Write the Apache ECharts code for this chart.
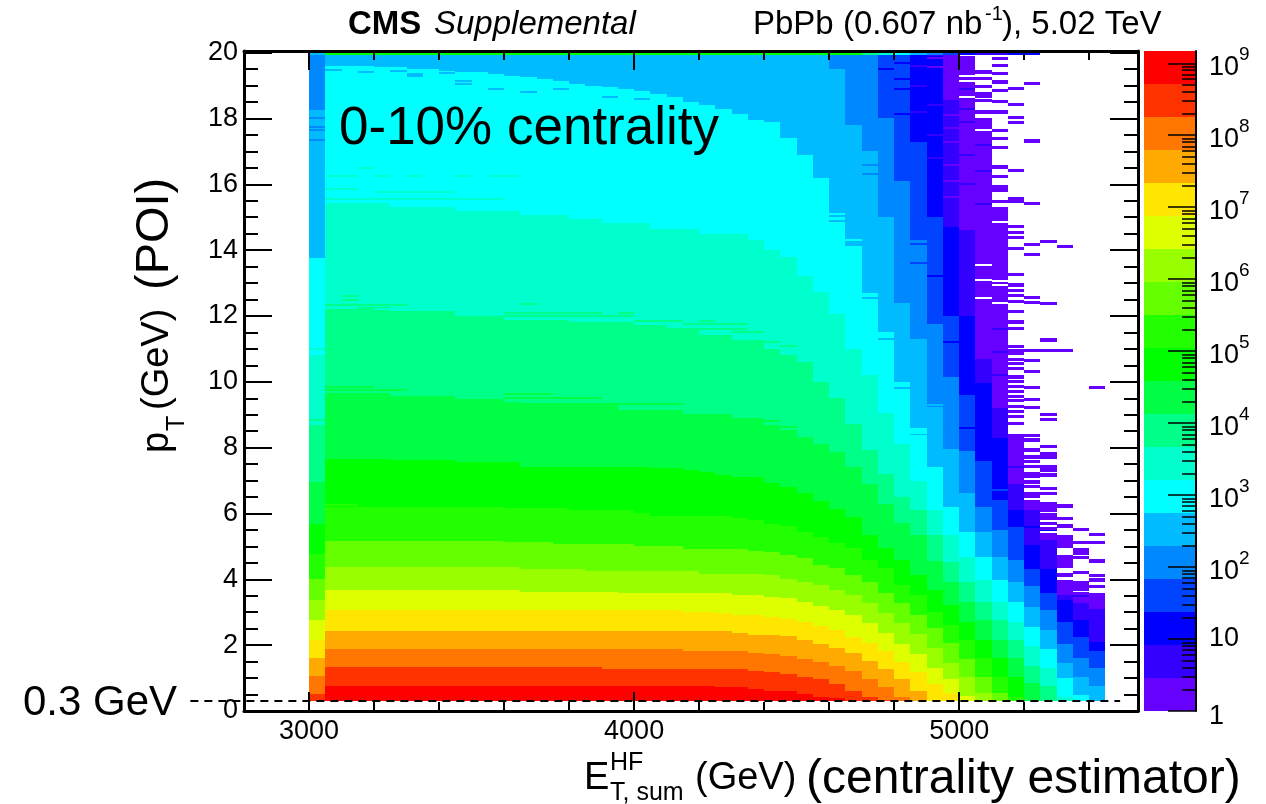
<!DOCTYPE html>
<html><head><meta charset="utf-8">
<style>html,body{margin:0;padding:0;background:#fff}#c{width:1266px;height:804px}</style>
<script src="https://cdn.jsdelivr.net/npm/echarts@6/dist/echarts.min.js"></script>
</head><body><div id="c"></div>
<script>
// ---- tick labels / categories ----
const columnLowEdges = [3000,3050,3100,3150,3200,3250,3300,3350,3400,3450,3500,3550,3600,3650,3700,3750,3800,3850,3900,3950,4000,4050,4100,4150,4200,4250,4300,4350,4400,4450,4500,4550,4600,4650,4700,4750,4800,4850,4900,4950,5000,5050,5100,5150,5200,5250,5300,5350,5400];
const columnWidth = 50;
const xMajorTicks = [3000,4000,5000];
const yMajorTicks = [0,2,4,6,8,10,12,14,16,18,20];
const zDecades = [1,1e1,1e2,1e3,1e4,1e5,1e6,1e7,1e8,1e9];
const zMinorTicks = [2,3,4,5,6,7,8,9,20,30,40,50,60,70,80,90,200,300,400,500,600,700,800,900,2e3,3e3,4e3,5e3,6e3,7e3,8e3,9e3,2e4,3e4,4e4,5e4,6e4,7e4,8e4,9e4,2e5,3e5,4e5,5e5,6e5,7e5,8e5,9e5,2e6,3e6,4e6,5e6,6e6,7e6,8e6,9e6,2e7,3e7,4e7,5e7,6e7,7e7,8e7,9e7,2e8,3e8,4e8,5e8,6e8,7e8,8e8,9e8];
const bandEdges = [1,2.87,8.26,23.7,68.2,196,564,1620,4660,13400,38500,110500,318000,913000,2620000,7540000,21700000,62300000,179000000,515000000,1480000000];
const bandColors = ['#6600ff','#3300ff','#0000ff','#0044ff','#0088ff','#00bbff','#00ffff','#00ffcc','#00ff88','#00ff44','#00ff00','#22ff00','#66ff00','#99ff00','#ddff00','#ffe600','#ffaa00','#ff7700','#ff3300','#ff0000'];
const cutPt = [[2635,5495,0.3]];

// ---- upper pT edge of each colour level, one value per E column ----
const top20=[.3,.77,.77,.77,.77,.77,.77,.77,.77,.77,.77,.77,.77,.77,.77,.77,.77,.77,.77,.77,.77,.77,.77,.77,.77,.72,.72,.67,.62,.61,.51,.44,.39,.3,.3,.3,.3,.3,.3,.3,.3,.3,.3,.3,.3,.3,.3,.3,.3];
const top19=[.52,1.33,1.33,1.33,1.33,1.33,1.33,1.33,1.33,1.33,1.33,1.33,1.33,1.33,1.33,1.33,1.33,1.33,1.28,1.28,1.28,1.28,1.28,1.28,1.28,1.28,1.28,1.22,1.17,1.12,1.02,.97,.82,.62,.42,.34,.3,.3,.3,.3,.3,.3,.3,.3,.3,.3,.3,.3,.3];
const top18=[1.06,1.87,1.87,1.87,1.87,1.87,1.87,1.87,1.87,1.87,1.87,1.87,1.87,1.87,1.87,1.87,1.87,1.87,1.87,1.87,1.87,1.87,1.87,1.82,1.82,1.82,1.82,1.77,1.72,1.68,1.57,1.5,1.38,1.23,.97,.72,.43,.3,.3,.3,.3,.3,.3,.3,.3,.3,.3,.3,.3];
const top17=[1.61,2.44,2.44,2.44,2.44,2.44,2.44,2.44,2.44,2.44,2.44,2.44,2.44,2.44,2.44,2.44,2.44,2.44,2.44,2.44,2.44,2.44,2.44,2.44,2.44,2.44,2.37,2.32,2.32,2.28,2.16,2.05,1.9,1.75,1.52,1.28,.96,.62,.3,.3,.3,.3,.3,.3,.3,.3,.3,.3,.3];
const top16=[2.16,3.07,3.07,3.07,3.07,3.07,3.07,3.07,3.07,3.07,3.07,3.07,3.07,3.07,3.07,3.07,3.07,3.07,3.07,3.07,3.07,3.07,3.07,3.02,3.02,2.97,2.92,2.92,2.87,2.81,2.71,2.59,2.46,2.26,2.07,1.82,1.5,1.17,.82,.54,.3,.3,.3,.3,.3,.3,.3,.3,.3];
const top15=[2.76,3.67,3.67,3.67,3.67,3.67,3.67,3.67,3.67,3.67,3.67,3.67,3.67,3.62,3.62,3.62,3.62,3.62,3.62,3.57,3.57,3.57,3.57,3.57,3.57,3.57,3.52,3.52,3.47,3.42,3.32,3.2,3.07,2.92,2.66,2.36,2.05,1.73,1.31,.96,.45,.3,.3,.3,.3,.3,.3,.3,.3];
const top14=[3.37,4.36,4.36,4.36,4.36,4.36,4.36,4.36,4.36,4.36,4.36,4.36,4.36,4.32,4.32,4.32,4.32,4.26,4.26,4.26,4.26,4.26,4.26,4.26,4.16,4.16,4.16,4.16,4.12,4.0,3.93,3.83,3.67,3.52,3.27,2.97,2.66,2.34,1.92,1.47,1.02,.54,.3,.3,.3,.3,.3,.3,.3];
const top13=[4.0,5.16,5.16,5.16,5.16,5.16,5.16,5.16,5.16,5.16,5.16,5.16,5.12,5.12,5.12,5.07,5.07,5.07,5.07,5.07,5.02,5.02,5.02,4.92,4.92,4.92,4.92,4.87,4.82,4.74,4.64,4.45,4.33,4.13,3.93,3.57,3.27,2.92,2.51,2.07,1.57,1.02,.54,.3,.3,.3,.3,.3,.3];
const top12=[4.78,6.19,6.19,6.19,6.19,6.19,6.19,6.19,6.19,6.19,6.19,6.19,6.16,6.16,6.16,6.16,6.11,6.11,6.11,6.11,6.03,5.92,5.92,5.92,5.92,5.92,5.86,5.81,5.67,5.63,5.43,5.3,5.09,4.94,4.59,4.33,3.83,3.52,3.0,2.61,2.17,1.62,1.04,.43,.3,.3,.3,.3,.3];
const top11=[5.68,7.67,7.67,7.67,7.67,7.63,7.63,7.63,7.63,7.56,7.56,7.56,7.56,7.42,7.42,7.42,7.42,7.42,7.42,7.42,7.42,7.37,7.37,7.32,7.27,7.17,7.12,7.12,6.94,6.81,6.61,6.39,6.15,5.9,5.35,4.94,4.59,4.13,3.67,3.22,2.71,2.17,1.62,1.04,.3,.3,.3,.3,.3];
const top10=[6.96,9.65,9.65,9.65,9.65,9.58,9.58,9.58,9.58,9.47,9.47,9.47,9.39,9.29,9.29,9.29,9.29,9.29,9.29,9.14,9.14,9.14,9.14,9.04,9.04,9.04,8.89,8.89,8.69,8.53,8.33,8.1,7.87,7.42,6.9,6.3,5.7,5.35,4.55,3.93,3.32,2.76,2.17,1.6,.84,.3,.3,.3,.3];
const top9=[8.71,12.28,12.28,12.28,12.28,12.15,12.15,12.15,12.15,12.0,12.0,12.0,11.87,11.87,11.87,11.87,11.82,11.82,11.82,11.82,11.72,11.72,11.57,11.57,11.42,11.42,11.32,11.32,11.01,10.81,10.6,10.0,9.5,8.73,7.92,7.2,6.5,6.1,5.35,4.53,3.93,3.32,2.76,2.17,1.38,.77,.3,.3,.3];
const top8=[10.86,15.42,15.42,15.42,15.42,15.3,15.3,15.3,15.3,15.18,15.18,15.18,15.18,15.06,15.06,15.06,14.95,14.95,14.81,14.81,14.81,14.65,14.65,14.65,14.5,14.5,14.5,14.3,14.0,13.8,13.2,12.73,12.07,11.0,10.2,9.04,8.1,7.0,6.1,5.35,4.67,3.98,3.32,2.71,1.97,1.31,.43,.3,.3];
const top7=[13.75,19.6,19.6,19.6,19.55,19.55,19.5,19.5,19.45,19.4,19.4,19.35,19.3,19.25,19.2,19.15,19.05,19.0,18.95,18.9,18.85,18.75,18.65,18.5,18.4,18.3,18.15,17.95,17.9,17.4,16.9,16.2,15.0,14.2,12.7,11.5,10.0,8.6,7.4,6.2,5.43,4.67,3.98,3.32,2.56,1.87,1.01,.5,.3];
const top6=[18.25,19.95,19.95,19.95,19.95,19.95,19.95,19.95,19.95,19.95,19.95,19.95,19.95,19.95,19.95,19.95,19.95,19.95,19.95,19.95,19.95,19.95,19.95,19.95,19.95,19.95,19.95,19.95,19.95,19.95,19.95,19.95,19.5,17.8,17.0,15.0,12.4,11.3,9.24,7.97,6.61,5.45,4.67,3.93,3.17,2.46,1.45,1.02,.77];
const top5=[19.95,19.95,19.95,19.95,19.95,19.95,19.95,19.95,19.95,19.95,19.95,19.95,19.95,19.95,19.95,19.95,19.95,19.95,19.95,19.95,19.95,19.95,19.95,19.95,19.95,19.95,19.95,19.95,19.95,19.95,19.95,19.95,19.95,19.95,19.95,18.0,16.1,14.3,11.77,10.15,7.9,6.2,5.5,4.6,3.8,3.07,2.05,1.6,1.31];
const top4=[19.95,19.95,19.95,19.95,19.95,19.95,19.95,19.95,19.95,19.95,19.95,19.95,19.95,19.95,19.95,19.95,19.95,19.95,19.95,19.95,19.95,19.95,19.95,19.95,19.95,19.95,19.95,19.95,19.95,19.95,19.95,19.95,19.95,19.95,19.95,19.95,19.95,17.3,15.0,12.0,9.6,7.6,6.4,5.6,4.31,3.57,2.7,2.25,1.82];
const top3=[19.95,19.95,19.95,19.95,19.95,19.95,19.95,19.95,19.95,19.95,19.95,19.95,19.95,19.95,19.95,19.95,19.95,19.95,19.95,19.95,19.95,19.95,19.95,19.95,19.95,19.95,19.95,19.95,19.95,19.95,19.95,19.95,19.95,19.95,19.95,19.95,19.95,19.95,19.9,14.7,12.0,9.95,8.3,6.1,5.04,4.3,3.37,2.76,2.1];
const top2=[19.95,19.95,19.95,19.95,19.95,19.95,19.95,19.95,19.95,19.95,19.95,19.95,19.95,19.95,19.95,19.95,19.95,19.95,19.95,19.95,19.95,19.95,19.95,19.95,19.95,19.95,19.95,19.95,19.95,19.95,19.95,19.95,19.95,19.95,19.95,19.95,19.95,19.95,19.95,18.6,14.6,10.7,9.2,6.9,6.1,5.2,3.52,3.27,3.1];
const top1=[19.95,19.95,19.95,19.95,19.95,19.95,19.95,19.95,19.95,19.95,19.95,19.95,19.95,19.95,19.95,19.95,19.95,19.95,19.95,19.95,19.95,19.95,19.95,19.95,19.95,19.95,19.95,19.95,19.95,19.95,19.95,19.95,19.95,19.95,19.95,19.95,19.95,19.95,19.95,19.95,19.9,18.0,15.3,8.4,6.4,5.4,3.98,3.6,3.57];
const levelTops=[top1,top2,top3,top4,top5,top6,top7,top8,top9,top10,top11,top12,top13,top14,top15,top16,top17,top18,top19,top20];

// top row of the histogram: colour level per column
const topRowLevels=[6,11,11,11,11,11,11,11,11,11,11,11,11,11,11,11,11,11,11,11,11,11,11,11,11,11,11,11,11,11,11,11,11,11,9,8,7,6,5,4,3,2,2,3,3,0,0,0,0];

// sparse filled bins in the tail: pT bin centres at level 1
const sparse41=[19.41,19.21,18.98,18.76,18.66,18.55,18.2];
const sparse42=[19.82,19.62,19.36,19.11,18.86,18.52,18.2,17.64,17.39,17.12,16.53,16.23,15.92,15.82,15.47];
const sparse43=[18.91,18.43,18.03,17.87,16.43,15.57,15.47,14.71,14.53,14.38,14.05,13.27,12.94,12.78,12.63,12.43,12.13,11.82,11.62,11.08,10.96,10.86,10.68,10.56,10.4,10.15,10.0,9.85,9.7,9.55,9.44,9.24,9.09,8.94,8.74];
const sparse44=[19.06,17.32,15.42,14.17,13.87,12.56,12.41,10.96,10.64,10.32,9.82,9.46,9.22,8.38,8.23,7.93,7.72,7.57,7.42,7.22,7.12,6.96,6.81,6.61,6.51];
const sparse45=[14.27,12.38,11.27,10.96,9.01,8.86,8.03,7.82,7.72,7.42,7.32,7.17,6.76,6.61,6.3,6.2,6.1,5.95,5.85,5.7,5.55];
const sparse46=[14.12,10.96,6.23,5.85,5.62,5.3,5.2,5.1,5.0,4.7,4.6,4.5,4.4,4.13];
const sparse47=[5.52,5.11,4.9,4.8,4.67,4.2,3.9,3.8,3.7];
const sparse48=[9.82,5.37,5.11,4.56,4.11,3.98,3.78];
const sparseByColumn=[[41,sparse41],[42,sparse42],[43,sparse43],[44,sparse44],[45,sparse45],[46,sparse46],[47,sparse47],[48,sparse48]];

// empty bins inside filled columns: [column, pT]
const emptyBins=[[40,19.3],[40,19.15],[40,18.65],[41,17.65],[41,13.55],[41,13.1],[41,12.56],[42,14.85],[42,13.05],[42,12.95],[42,12.4]];

// isolated thin rows at contour edges: [first column, last column, pT, level]
const edgeRows=[
[1,2,19.65,6],[1,1,19.48,6],[3,3,19.4,6],[5,5,19.45,6],[6,6,19.36,6],[6,6,19.3,6],[8,8,19.6,6],[8,8,19.5,6],[8,8,19.38,6],[9,9,19.15,6],[9,9,19.05,6],[11,11,18.9,6],[13,13,18.8,6],[15,15,18.9,6],[18,18,18.65,6],[20,20,18.6,6],
[3,3,16.5,8],[1,2,16.26,8],[4,4,16.26,8],[6,6,16.26,8],[9,9,16.26,8],[11,12,16.26,8],[1,2,15.85,8],[4,8,15.78,8],[1,11,15.55,8],[14,16,15.1,7],[18,21,14.95,7],
[13,13,12.35,9],[12,17,12.1,9],[19,19,12.1,9],[12,19,12.0,9],[20,22,11.85,9],[24,24,11.85,9],[23,26,11.75,9],[22,26,11.6,9],[26,27,11.5,9],[26,27,11.3,8],[28,28,11.2,9],[29,29,11.08,9],
[12,14,9.62,10],[12,17,9.52,10],[13,22,9.34,10],[19,24,9.24,9],[26,26,9.24,9],[23,27,9.04,9],[27,28,8.8,10],[29,29,8.63,10],[29,29,8.48,10],
[2,2,12.6,9],[2,2,12.5,9],[1,5,12.32,9],[1,2,12.23,8],[4,4,12.2,8],[1,3,9.85,10],[1,5,9.75,10],[1,2,6.25,12],
[0,0,14.1,6],[0,0,13.95,6],[0,0,13.8,6],[0,0,11.0,8],[0,0,10.85,7],[0,0,8.83,9],[0,0,8.73,8],[0,0,18.0,5],[0,0,17.75,5],[0,0,17.65,5],[0,0,17.35,5],
[34,34,12.8,6],[34,34,12.65,7],[34,34,12.55,6],[35,35,11.6,6],[35,35,11.45,7],[35,35,11.3,6],[36,36,10.1,6],[36,36,9.95,7],[36,36,9.8,6],[37,37,8.75,6],[37,37,8.55,7],[37,37,8.4,6],
[32,32,15.3,6],[32,32,15.1,7],[32,32,14.9,6],[33,33,14.3,7],[33,33,14.15,6],[29,29,17.7,6],[29,29,17.2,7],[30,30,17.1,6],[30,30,16.7,7],[31,31,16.5,6],[31,31,16.1,7],[33,33,19.0,5],[33,33,18.7,5],[33,33,18.4,5],[34,34,18.5,5],[34,34,18.2,5],[34,34,16.6,5],[34,34,16.3,5],
[38,38,10.2,5],[38,38,9.3,6],[36,36,15.7,5],[36,36,15.4,5],[37,37,14.2,4],[37,37,13.9,5],[37,37,13.6,4],[38,38,13.2,3],[38,38,12.9,4],[39,39,11.2,3],[39,39,10.6,4],[39,39,9.9,5],[39,39,8.5,5],[40,40,10.0,3],[40,40,8.6,3],[41,41,8.5,3],[41,41,7.9,3],[42,42,7.1,3],[42,42,6.7,4],[43,43,7.4,2],[44,44,5.6,3],[45,45,5.5,3],[46,46,4.1,2],[47,47,3.5,2],[48,48,3.3,1],
[35,35,19.5,3],[35,35,18.9,4],[36,36,19.7,3],[36,36,19.2,3],[36,36,18.9,3],[36,36,18.15,3],[37,37,19.6,2],[37,37,19.0,2],[37,37,18.2,2],
[38,38,19.85,1],[38,38,19.55,1],[38,38,18.4,2],[38,38,17.5,2],[38,38,16.8,2],[39,39,19.7,1],[39,39,19.3,1],[39,39,18.6,1],[39,39,18.1,1],[39,39,17.7,1],[39,39,17.3,1],[39,39,16.6,1],[39,39,16.1,1],[39,39,15.6,1],
[40,40,18.9,2],[40,40,18.3,2],[40,40,17.9,2],[40,40,16.9,2],[40,40,16.0,2],[41,41,17.2,2],[41,41,16.4,2],[41,41,15.4,2],[42,42,11.6,2],[42,42,10.9,2],[42,42,10.2,2]
];

// ---- build the marks from the tables ----
const cellData=[];
const bottomPt=0.3;
columnLowEdges.forEach((e,c)=>{
  for(let L=0;L<20;L++){
    const hi=levelTops[L][c];
    const lo=L<19?levelTops[L+1][c]:bottomPt;
    if(hi>lo) cellData.push([e,e+columnWidth,lo,hi,L]);
  }
  if(topRowLevels[c]>0) cellData.push([e,e+columnWidth,19.93,20.0,topRowLevels[c]-1]);
});
edgeRows.forEach(r=>{
  for(let c=r[0];c<=r[1];c++){
    const e=columnLowEdges[c];
    cellData.push([e,e+columnWidth,r[2]-0.03,r[2]+0.03,r[3]-1]);
  }
});
sparseByColumn.forEach(([c,list])=>{
  const e=columnLowEdges[c];
  list.forEach(p=>cellData.push([e,e+columnWidth,p-0.05,p+0.05,0]));
});
emptyBins.forEach(([c,p])=>{
  const e=columnLowEdges[c];
  cellData.push([e,e+columnWidth,p-0.03,p+0.03,-1]);
});
const barData=bandColors.map((_,i)=>[0,1,bandEdges[i],bandEdges[i+1],i]);

function cellRender(params,api){
  const p0=api.coord([api.value(0),api.value(2)]);
  const p1=api.coord([api.value(1),api.value(3)]);
  const x0=Math.round(p0[0]),x1=Math.round(p1[0]);
  const y0=Math.round(p1[1]);let y1=Math.round(p0[1]);
  if(y1<=y0) y1=y0+1;
  const L=api.value(4);
  return {type:'rect',shape:{x:x0,y:y0,width:x1-x0,height:y1-y0},style:{fill:L<0?'#ffffff':bandColors[L]}};
}
function cutRender(params,api){
  const a=api.coord([api.value(0),api.value(2)]);
  const b=api.coord([api.value(1),api.value(2)]);
  return {type:'line',shape:{x1:a[0],y1:a[1],x2:b[0],y2:b[1]},style:{stroke:'#000',lineWidth:2,lineDash:[8,6],fill:null}};
}
const FONT='"Liberation Sans",Arial,sans-serif';
const box={left:244,top:51,width:894,height:660};
const barBox={left:1144,top:51,width:52,height:660};
const tickBlack={color:'#000',width:2};
function frameX(pos,gridIndex,major,showLab){
  return {type:'value',gridIndex,position:pos,min:2800,max:5550,z:10,
    axisLine:{show:major,onZero:false,lineStyle:{color:'#000',width:3}},
    axisTick:major?{show:true,inside:true,length:19,customValues:xMajorTicks,lineStyle:tickBlack}:{show:true,inside:true,length:9,lineStyle:tickBlack},
    interval:major?undefined:200,
    axisLabel:showLab?{show:true,customValues:xMajorTicks,formatter:v=>String(v),fontFamily:FONT,fontSize:27,color:'#000',margin:7}:{show:false},
    splitLine:{show:false}};
}
function frameY(pos,gridIndex,major,showLab){
  return {type:'value',gridIndex,position:pos,min:0,max:20.05,z:10,
    axisLine:{show:major,onZero:false,lineStyle:{color:'#000',width:3}},
    axisTick:major?{show:true,inside:true,length:28,customValues:yMajorTicks,lineStyle:tickBlack}:{show:true,inside:true,length:14,lineStyle:tickBlack},
    interval:major?undefined:0.5,
    axisLabel:showLab?{show:true,customValues:yMajorTicks,fontFamily:FONT,fontSize:27,color:'#000',margin:6}:{show:false},
    splitLine:{show:false}};
}
const ASC=0.80;
function txt(text,x,base,size,style){
  return {type:'text',x,y:base-ASC*size,z:50,silent:true,style:Object.assign({text,fontFamily:FONT,fontSize:size,fill:'#000'},style||{})};
}
function vtxt(text,baseX,y,size){
  return {type:'text',x:baseX-ASC*size,y,rotation:Math.PI/2,z:50,silent:true,style:{text,fontFamily:FONT,fontSize:size,fill:'#000'}};
}
const graphics=[
 txt('CMS',348,35,33,{fontWeight:'bold'}),
 txt('Supplemental',434,35,33,{fontStyle:'italic'}),
 txt('PbPb (0.607 nb',753,35,33),
 txt('-1',985,20,20),
 txt('), 5.02 TeV',1002,35,33),
 txt('0-10% centrality',339,145,53),
 txt('0.3 GeV',23,716,42),
 txt('E',584,790,38),
 txt('HF',610,771,25),
 txt('T, sum',610,801,25),
 txt('(GeV)',695,790,38),
 txt('(centrality estimator)',806,794,48),
 vtxt('p',169,453,38),
 vtxt('T',185,431,25),
 vtxt('(GeV)',169,410,38),
 vtxt('(POI)',169,290,47)
];
const chart=echarts.init(document.getElementById('c'),null,{renderer:'canvas'});
chart.setOption({
 animation:false,backgroundColor:'#fff',
 grid:[Object.assign({},box),Object.assign({},box),Object.assign({},barBox),Object.assign({},barBox)],
 xAxis:[
  frameX('bottom',0,true,true),frameX('top',0,true,false),frameX('bottom',1,false,false),frameX('top',1,false,false),
  {type:'value',gridIndex:2,min:0,max:1,show:false},{type:'value',gridIndex:3,min:0,max:1,show:false}
 ],
 yAxis:[
  frameY('left',0,true,true),frameY('right',0,true,false),frameY('left',1,false,false),frameY('right',1,false,false),
  {type:'log',gridIndex:2,position:'right',min:1,max:1480000000,z:10,
   axisLine:{show:true,onZero:false,lineStyle:{color:'#000',width:2}},
   axisTick:{show:true,inside:true,length:28,customValues:zDecades,lineStyle:{color:'#000',width:1.5}},
   axisLabel:{show:true,customValues:zDecades,margin:13,color:'#000',align:'left',
     formatter:v=>{const e=Math.round(Math.log10(v));return e===0?'{q|1}':e===1?'{p|10}':'{n|10}{s|'+e+'}';},
     rich:{
       n:{fontFamily:FONT,fontSize:27,color:'#000',padding:[8,0,0,0],verticalAlign:'bottom'},
       p:{fontFamily:FONT,fontSize:27,color:'#000'},
       q:{fontFamily:FONT,fontSize:27,color:'#000',padding:[11,0,0,0]},
       s:{fontFamily:FONT,fontSize:19,color:'#000',verticalAlign:'top'}}},
   splitLine:{show:false}},
  {type:'log',gridIndex:3,position:'right',min:1,max:1480000000,z:10,
   axisLine:{show:false,onZero:false},
   axisTick:{show:true,inside:true,length:14,customValues:zMinorTicks,lineStyle:{color:'#000',width:1.5}},
   axisLabel:{show:false},splitLine:{show:false}}
 ],
 series:[
  {type:'custom',xAxisIndex:0,yAxisIndex:0,coordinateSystem:'cartesian2d',data:cellData,renderItem:cellRender,encode:{x:[0,1],y:[2,3]},clip:true,silent:true,progressive:0,z:2},
  {type:'custom',xAxisIndex:0,yAxisIndex:0,coordinateSystem:'cartesian2d',data:cutPt,renderItem:cutRender,encode:{x:[0,1],y:[2]},clip:false,silent:true,z:20},
  {type:'custom',xAxisIndex:4,yAxisIndex:4,coordinateSystem:'cartesian2d',data:barData,renderItem:cellRender,encode:{x:[0,1],y:[2,3]},clip:false,silent:true,z:2}
 ],
 graphic:{elements:graphics}
});
</script></body></html>
